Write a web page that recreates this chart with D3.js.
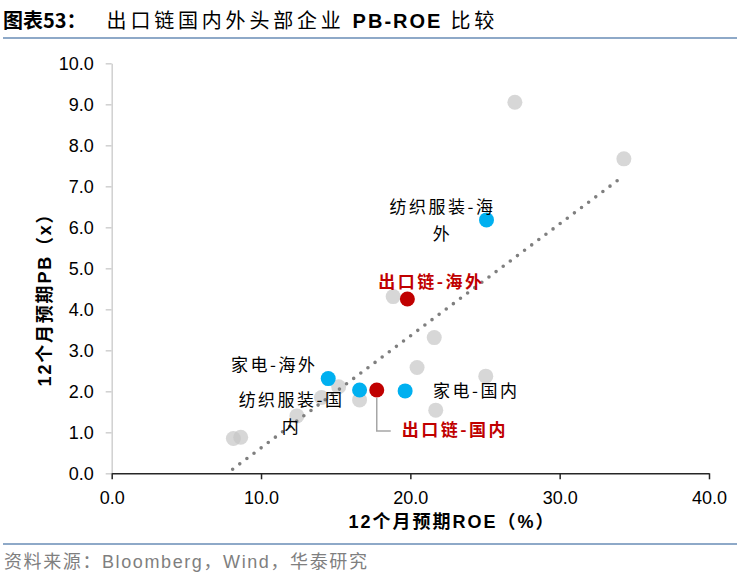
<!DOCTYPE html>
<html>
<head>
<meta charset="utf-8">
<script src="https://cdn.jsdelivr.net/npm/d3@7"></script>
<style>
  body { margin: 0; background: #fff; }
  text { font-family: "Liberation Sans", Arial, "Noto Sans CJK SC", sans-serif; }
  .cjk { font-family: "Noto Sans CJK SC", "Liberation Sans", sans-serif; }
</style>
</head>
<body>
<div id="chart"></div>
<script>
// all companies (grey dots): 12m fwd ROE (%) and PB (x)
var greyRoe = [8.15, 8.64, 12.4, 14.05, 15.2, 16.6, 18.85, 20.45, 21.6, 21.7, 25.05, 27.0, 34.3];
var greyPb  = [0.85, 0.88, 1.40, 1.85, 2.11, 1.79, 4.31, 2.58, 3.31, 1.54, 2.37, 9.05, 7.67];

// sector averages (blue dots)
var blueNames = ["纺织服装-海外", "家电-海外", "纺织服装-国内", "家电-国内"];
var blueRoe   = [25.1, 14.5, 16.6, 19.65];
var bluePb    = [6.18, 2.31, 2.03, 2.01];

// export chain averages (red dots)
var redNames = ["出口链-海外", "出口链-国内"];
var redRoe   = [19.8, 17.75];
var redPb    = [4.25, 2.03];

// linear trendline end points
var trendRoe = [8.1, 34.2];
var trendPb  = [0.1, 7.23];

var xTicks = [0, 10, 20, 30, 40];
var yTicks = [0, 1, 2, 3, 4, 5, 6, 7, 8, 9, 10];

var width = 746,
    height = 580;

var svg = d3.select("#chart")
    .append("svg")
    .attr("width", width)
    .attr("height", height);

var x = d3.scaleLinear().domain([0, 40]).range([111.7, 709]);
var y = d3.scaleLinear().domain([0, 10]).range([473.3, 63.3]);

/* title */
var title = svg.append("text")
    .attr("class", "cjk")
    .attr("x", 3)
    .attr("y", 28)
    .attr("font-size", 20)
    .attr("fill", "#000");
title.append("tspan").attr("font-weight", "bold").text("图表53：");
title.append("tspan").attr("dx", 20).attr("letter-spacing", 3.8).text("出口链国内外头部企业");
title.append("tspan").attr("dx", 8).attr("font-weight", "bold").attr("letter-spacing", 2)
    .style("font-family", "'Liberation Sans', Arial, sans-serif").text("PB-ROE");
title.append("tspan").attr("dx", 8).attr("letter-spacing", 3.8).text("比较");

svg.append("line")
    .attr("x1", 3).attr("x2", 737)
    .attr("y1", 38).attr("y2", 38)
    .attr("stroke", "#8ea9c8")
    .attr("stroke-width", 2);

/* axes */
var yAxis = svg.append("g")
    .attr("transform", "translate(" + x(0) + ",0)")
    .call(d3.axisLeft(y).tickValues(yTicks).tickFormat(d3.format(".1f"))
        .tickSize(6).tickSizeOuter(0).tickPadding(12));
yAxis.select(".domain").attr("stroke", "#d0d0d0").attr("stroke-width", 1.5);
yAxis.selectAll(".tick line").attr("stroke", "#d0d0d0").attr("stroke-width", 1.5);
yAxis.selectAll(".tick text")
    .attr("font-size", 18)
    .attr("font-family", "'Liberation Sans', Arial, sans-serif")
    .attr("fill", "#000");

var xAxis = svg.append("g")
    .attr("transform", "translate(0," + y(0) + ")")
    .call(d3.axisBottom(x).tickValues(xTicks).tickFormat(d3.format(".1f"))
        .tickSize(6).tickSizeOuter(0).tickPadding(12));
xAxis.select(".domain").attr("stroke", "#262626").attr("stroke-width", 1.5);
xAxis.selectAll(".tick line").attr("stroke", "#262626").attr("stroke-width", 1.5);
xAxis.selectAll(".tick text")
    .attr("font-size", 18)
    .attr("font-family", "'Liberation Sans', Arial, sans-serif")
    .attr("fill", "#000");

/* axis titles */
svg.append("text")
    .attr("x", 452)
    .attr("y", 528)
    .attr("text-anchor", "middle")
    .attr("font-size", 18)
    .attr("font-weight", "bold")
    .attr("letter-spacing", 2)
    .attr("fill", "#000")
    .text("12个月预期ROE（%）");

svg.append("text")
    .attr("transform", "translate(51,295) rotate(-90)")
    .attr("text-anchor", "middle")
    .attr("font-size", 18)
    .attr("font-weight", "bold")
    .attr("letter-spacing", 1.8)
    .attr("fill", "#000")
    .text("12个月预期PB（x）");

/* grey dots */
svg.append("g")
    .selectAll("circle")
    .data(d3.range(greyRoe.length))
    .enter().append("circle")
    .attr("cx", function(i) { return x(greyRoe[i]); })
    .attr("cy", function(i) { return y(greyPb[i]); })
    .attr("r", 7.5)
    .attr("fill", "#c6c6c6")
    .attr("fill-opacity", 0.7);

/* trendline */
var line = d3.line()
    .x(function(i) { return x(trendRoe[i]); })
    .y(function(i) { return y(trendPb[i]); });

svg.append("path")
    .datum(d3.range(trendRoe.length))
    .attr("d", line)
    .attr("fill", "none")
    .attr("stroke", "#7f7f7f")
    .attr("stroke-width", 3.6)
    .attr("stroke-linecap", "round")
    .attr("stroke-dasharray", "0 8.9");

/* leader line for 出口链-国内 */
svg.append("path")
    .attr("d", "M" + x(redRoe[1]) + "," + (y(redPb[1]) + 8) +
               "V" + (y(redPb[1]) + 41) + "H" + (x(redRoe[1]) + 14))
    .attr("fill", "none")
    .attr("stroke", "#a6a6a6")
    .attr("stroke-width", 1.5);

/* blue dots */
svg.append("g")
    .selectAll("circle")
    .data(d3.range(blueRoe.length))
    .enter().append("circle")
    .attr("cx", function(i) { return x(blueRoe[i]); })
    .attr("cy", function(i) { return y(bluePb[i]); })
    .attr("r", 7.5)
    .attr("fill", "#00b0f0");

/* red dots */
svg.append("g")
    .selectAll("circle")
    .data(d3.range(redRoe.length))
    .enter().append("circle")
    .attr("cx", function(i) { return x(redRoe[i]); })
    .attr("cy", function(i) { return y(redPb[i]); })
    .attr("r", 7.5)
    .attr("fill", "#c00000");

/* labels: [lines, anchor, dx, dy of first line] */
var blueLabels = [
    [["纺织服装-海", "外"], "middle", -44, -13],
    [["家电-海外"], "middle", -54, -14],
    [["纺织服装-国", "内"], "middle", -68, 10],
    [["家电-国内"], "start", 28, 0]
];
var redLabels = [
    [["出口链-海外"], "middle", 24, -17],
    [["出口链-国内"], "start", 25, 40]
];

function addLabel(px, py, lab, color, bold) {
    var t = svg.append("text")
        .attr("class", "cjk")
        .attr("text-anchor", lab[1])
        .attr("font-size", 17)
        .attr("font-weight", bold ? "bold" : "normal")
        .attr("letter-spacing", 2.5)
        .attr("fill", color);
    lab[0].forEach(function(s, k) {
        t.append("tspan")
            .attr("x", px + lab[2])
            .attr("y", py + lab[3] + k * 27 + 6)
            .text(s);
    });
}

blueLabels.forEach(function(lab, i) {
    addLabel(x(blueRoe[i]), y(bluePb[i]), lab, "#000", false);
});
redLabels.forEach(function(lab, i) {
    addLabel(x(redRoe[i]), y(redPb[i]), lab, "#c00000", true);
});

/* footer */
svg.append("line")
    .attr("x1", 3).attr("x2", 737)
    .attr("y1", 544).attr("y2", 544)
    .attr("stroke", "#8ea9c8")
    .attr("stroke-width", 2);

var foot = svg.append("text")
    .attr("x", 4)
    .attr("y", 568)
    .attr("font-size", 18)
    .attr("letter-spacing", 1.6)
    .attr("fill", "#7f7f7f");
foot.append("tspan").attr("class", "cjk").text("资料来源：");
foot.append("tspan").style("font-family", "'Liberation Sans', Arial, sans-serif").text("Bloomberg");
foot.append("tspan").attr("class", "cjk").text("，");
foot.append("tspan").style("font-family", "'Liberation Sans', Arial, sans-serif").text("Wind");
foot.append("tspan").attr("class", "cjk").text("，华泰研究");
</script>
</body>
</html>
